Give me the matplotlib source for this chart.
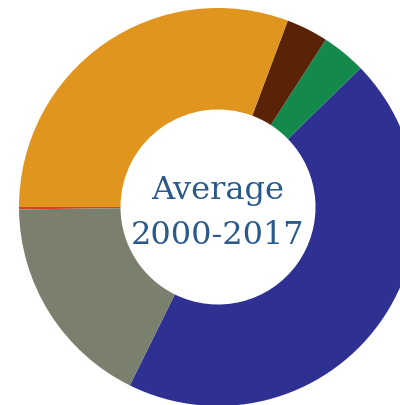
import matplotlib
matplotlib.use("Agg")
import matplotlib.pyplot as plt

# shares of the average 2000-2017, counter-clockwise from the blue slice
labels = ["Blue", "Green", "Brown", "Orange", "Red", "Gray"]
shares = [44.6, 3.6, 3.4, 30.7, 0.2, 17.5]
colors = ["#2e3192", "#138a4c", "#5a2308", "#e0951f", "#d2481c", "#7b7f6d"]
center_text = "Average\n2000-2017"

fig = plt.figure(figsize=(4.0, 4.06), dpi=100)
ax = fig.add_axes([0, 0, 1, 1])

ax.pie(shares, colors=colors, startangle=243.7, counterclock=True,
       radius=1.0, wedgeprops=dict(width=0.51, edgecolor="none"))

ax.text(0, -0.025, center_text, ha="center", va="center", fontsize=23,
        family="DejaVu Serif", color="#2a5a8c", linespacing=1.55)

# the ring is cropped by the frame on the right and bottom
ax.set_xlim(-1.0955, 0.9146)
ax.set_ylim(-0.995, 1.0452)
ax.set_aspect("auto")
ax.axis("off")

fig.savefig("out.png", dpi=100)
